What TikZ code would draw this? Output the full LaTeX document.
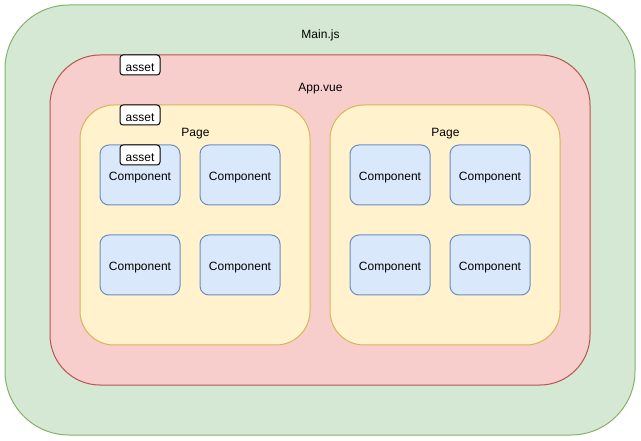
\documentclass[tikz,border=0pt]{standalone}
\usepackage{fontspec}
\setmainfont{Liberation Sans}
\definecolor{gfill}{HTML}{D5E8D4}\definecolor{gline}{HTML}{82B366}
\definecolor{rfill}{HTML}{F8CECC}\definecolor{rline}{HTML}{B85450}
\definecolor{yfill}{HTML}{FFF2CC}\definecolor{yline}{HTML}{D6B656}
\definecolor{bfill}{HTML}{DAE8FC}\definecolor{bline}{HTML}{6C8EBF}
\begin{document}
\begin{tikzpicture}[x=1pt,y=-1pt,line width=1pt,
  box/.style={draw,inner sep=0pt,outer sep=0pt,anchor=north west},
  mainbox/.style={box,fill=gfill,draw=gline,rounded corners=64pt,minimum width=630pt,minimum height=430pt},
  appbox/.style={box,fill=rfill,draw=rline,rounded corners=50pt,minimum width=540pt,minimum height=330pt},
  pagebox/.style={box,fill=yfill,draw=yline,rounded corners=34pt,minimum width=230pt,minimum height=240pt},
  compbox/.style={box,fill=bfill,draw=bline,rounded corners=9pt,minimum width=80pt,minimum height=60pt,font=\fontsize{12}{14}\selectfont,text height=12pt,text depth=0pt},
  assetbox/.style={box,fill=white,draw=black,rounded corners=3pt,minimum width=40pt,minimum height=20pt,font=\fontsize{12}{14}\selectfont,text height=14pt,text depth=0pt},
  lbl/.style={font=\fontsize{12}{14}\selectfont,inner sep=0pt,anchor=base}]
\useasboundingbox (0,0) rectangle (641,441);
\node[mainbox] (main) at (5,5) {};
\node[lbl] (mainlbl) at (320.5,39) {Main.js};
\node[appbox] (app) at (50,55) {};
\node[lbl] (applbl) at (320.5,91.3) {App.vue};
\node[pagebox] (pageL) at (80,105) {};
\node[pagebox] (pageR) at (330,105) {};
\node[lbl] (pageLlbl) at (195.5,137) {Page};
\node[lbl] (pageRlbl) at (445.5,137) {Page};
\node[compbox] (c1) at (100,145) {Component};
\node[compbox] (c2) at (200,145) {Component};
\node[compbox] (c3) at (100,235) {Component};
\node[compbox] (c4) at (200,235) {Component};
\node[compbox] (c5) at (350,145) {Component};
\node[compbox] (c6) at (450,145) {Component};
\node[compbox] (c7) at (350,235) {Component};
\node[compbox] (c8) at (450,235) {Component};
\node[assetbox] (a1) at (120,55) {asset};
\node[assetbox] (a2) at (120,105) {asset};
\node[assetbox] (a3) at (120,145) {asset};
\end{tikzpicture}
\end{document}
